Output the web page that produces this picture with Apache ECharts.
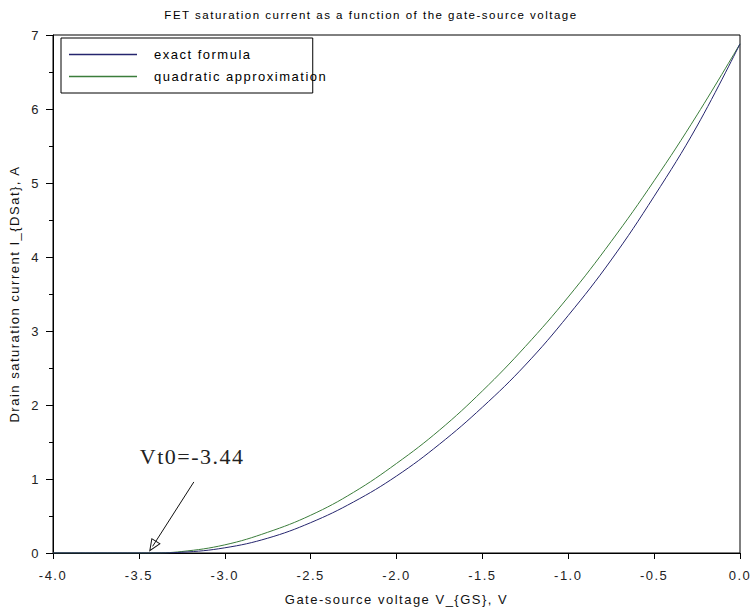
<!DOCTYPE html>
<html>
<head>
<meta charset="utf-8">
<script src="https://cdn.jsdelivr.net/npm/echarts@6/dist/echarts.min.js"></script>
<style>
  html, body { margin: 0; padding: 0; background: #fff; }
  #chart { width: 755px; height: 613px; }
  #chart svg text { letter-spacing: 1.5px; }
</style>
</head>
<body>
<div id="chart"></div>
<script>
// Gate-source voltage samples (V)
var vgs = [-4.0, -3.75, -3.5, -3.44, -3.25, -3.0, -2.75, -2.5, -2.25, -2.0, -1.75, -1.5, -1.25, -1.0, -0.75, -0.5, -0.25, 0.0];
// Drain saturation current, exact formula (A)
var exactFormula = [0, 0, 0, 0, 0.01, 0.07, 0.20, 0.41, 0.69, 1.04, 1.47, 1.97, 2.54, 3.21, 3.96, 4.82, 5.77, 6.88];
// Drain saturation current, quadratic approximation (A)
var quadApprox = [0, 0, 0, 0, 0.02, 0.11, 0.28, 0.51, 0.82, 1.21, 1.66, 2.19, 2.79, 3.46, 4.21, 5.03, 5.92, 6.88];
// Threshold annotation
var vt0 = -3.44;
var arrowFrom = [-3.18, 0.96];
var arrowTo = [-3.42, 0.09];
var labelAt = [-3.19, 1.30];

var seriesNames = ['exact formula', 'quadratic approximation'];
var seriesColors = ['#25256e', '#3b7d3b'];
var xTicks = { min: -4, max: 0, interval: 0.5 };
var yTicks = { min: 0, max: 7, interval: 1 };

function pairs(xs, ys) { return xs.map(function (x, i) { return [x, ys[i]]; }); }

var chart = echarts.init(document.getElementById('chart'), null, { renderer: 'svg' });
var baseFont = 'Liberation Sans, Arial, sans-serif';
var hollowArrow = 'path://M50,0 L100,100 L0,100 Z M50,20 L13,93 L87,93 Z';

chart.setOption({
  animation: false,
  backgroundColor: '#fff',
  title: {
    text: 'FET saturation current as a function of the gate-source voltage',
    left: 366, top: 4, textAlign: 'center',
    textStyle: { fontFamily: baseFont, fontSize: 11.5, fontWeight: 'normal', color: '#000' }
  },
  legend: {
    orient: 'vertical', left: 61, top: 38,
    icon: 'rect', itemWidth: 68, itemHeight: 1.5, itemGap: 9,
    padding: [10, 20, 10, 8],
    borderColor: '#000', borderWidth: 1,
    data: seriesNames,
    textStyle: { fontFamily: baseFont, fontSize: 13, color: '#000', padding: [0, 0, 0, 12] }
  },
  grid: { left: 53, right: 15, top: 35, bottom: 60, show: true, borderColor: '#000', borderWidth: 1, backgroundColor: 'transparent' },
  xAxis: {
    type: 'value', min: xTicks.min, max: xTicks.max, interval: xTicks.interval,
    name: 'Gate-source voltage V_{GS}, V', nameLocation: 'middle', nameGap: 40,
    nameTextStyle: { fontFamily: baseFont, fontSize: 13, color: '#111' },
    axisLine: { onZero: false, lineStyle: { color: '#000', width: 1 } },
    axisTick: { show: true, inside: false, length: 6, lineStyle: { color: '#000' } },
    axisLabel: { fontFamily: baseFont, fontSize: 13, color: '#222', margin: 16,
      formatter: function (v) { return v.toFixed(1); } },
    splitLine: { show: false }
  },
  yAxis: {
    type: 'value', min: yTicks.min, max: yTicks.max, interval: yTicks.interval,
    name: 'Drain saturation current I_{DSat}, A', nameLocation: 'middle', nameGap: 32,
    nameTextStyle: { fontFamily: baseFont, fontSize: 13, color: '#111' },
    axisLine: { onZero: false, lineStyle: { color: '#000', width: 1 } },
    axisTick: { show: true, inside: false, length: 7, lineStyle: { color: '#000' } },
    minorTick: { show: true, splitNumber: 2, length: 4, lineStyle: { color: '#000' } },
    axisLabel: { fontFamily: baseFont, fontSize: 13, color: '#222', margin: 13 },
    splitLine: { show: false }
  },
  series: [
    {
      name: seriesNames[0], type: 'line', data: pairs(vgs, exactFormula),
      smooth: 0.4, symbol: 'none', z: 3,
      lineStyle: { color: seriesColors[0], width: 1 }, itemStyle: { color: seriesColors[0] },
      markLine: {
        silent: true, symbol: ['none', hollowArrow], symbolSize: [11, 13],
        lineStyle: { color: '#111', width: 1, type: 'solid' },
        label: { show: false }, emphasis: { disabled: true },
        data: [[{ coord: arrowFrom }, { coord: arrowTo }]]
      },
      markPoint: {
        silent: true, symbol: 'rect', symbolSize: 1,
        itemStyle: { color: 'rgba(0,0,0,0)' },
        label: { show: true, position: 'inside', color: '#222',
          fontFamily: 'Liberation Serif, Times New Roman, serif', fontSize: 22,
          formatter: function () { return 'Vt0=' + vt0.toFixed(2); } },
        data: [{ coord: labelAt }]
      }
    },
    {
      name: seriesNames[1], type: 'line', data: pairs(vgs, quadApprox),
      smooth: 0.4, symbol: 'none', z: 2,
      lineStyle: { color: seriesColors[1], width: 1 }, itemStyle: { color: seriesColors[1] }
    }
  ]
});
</script>
</body>
</html>
